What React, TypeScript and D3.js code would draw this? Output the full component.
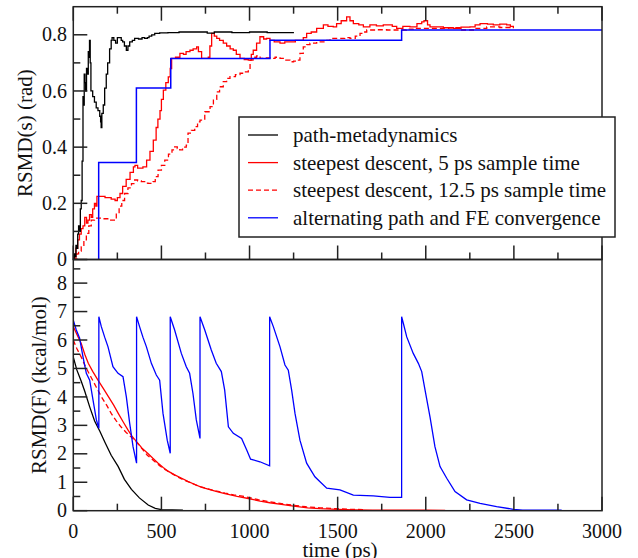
import React from "react";
import * as d3 from "d3";

type P = [number, number];

// ---------- data (time in ps) ----------
const xTicks = [0, 500, 1000, 1500, 2000, 2500, 3000];
const topYTicks = [0, 0.2, 0.4, 0.6, 0.8];
const botYTicks = [0, 1, 2, 3, 4, 5, 6, 7, 8];
const legendLabels = [
  "path-metadynamics",
  "steepest descent, 5 ps sample time",
  "steepest descent, 12.5 ps sample time",
  "alternating path and FE convergence",
];

const pathMetaS: P[] = [
  [0, 0], [5, 0.02], [10, 0.01], [15, 0.05], [20, 0.04], [25, 0.09], [30, 0.12], [35, 0.1], [40, 0.18],
  [45, 0.21], [50, 0.35], [55, 0.58], [58, 0.55], [62, 0.66], [66, 0.63], [70, 0.6], [75, 0.68], [80, 0.66],
  [85, 0.74], [88, 0.72], [92, 0.78], [96, 0.7], [100, 0.6], [110, 0.58], [120, 0.56], [130, 0.54], [140, 0.53],
  [150, 0.51], [155, 0.49], [158, 0.47], [162, 0.52], [170, 0.55], [178, 0.61], [187, 0.66], [195, 0.7],
  [206, 0.75], [215, 0.78], [220, 0.79], [230, 0.78], [240, 0.77], [250, 0.79], [263, 0.79], [272, 0.78],
  [280, 0.775], [290, 0.76], [301, 0.745], [310, 0.76], [320, 0.775], [335, 0.78], [348, 0.787], [370, 0.785],
  [390, 0.79], [405, 0.787], [420, 0.79], [430, 0.795], [445, 0.8], [462, 0.805], [490, 0.807], [537, 0.808],
  [600, 0.81], [700, 0.81], [760, 0.806], [800, 0.81], [900, 0.808], [1000, 0.81], [1100, 0.808], [1252, 0.808],
];

const sd5S: P[] = [
  [0, 0], [8, 0.01], [15, 0.04], [25, 0.07], [35, 0.09], [45, 0.11], [55, 0.12], [65, 0.15], [75, 0.13],
  [83, 0.14], [92, 0.16], [102, 0.15], [110, 0.18], [120, 0.2], [128, 0.19], [134, 0.225], [160, 0.225],
  [180, 0.22], [200, 0.22], [215, 0.215], [237, 0.21], [250, 0.22], [265, 0.235], [280, 0.26], [300, 0.285],
  [322, 0.31], [341, 0.33], [350, 0.335], [365, 0.325], [378, 0.325], [395, 0.33], [416, 0.354], [435, 0.385],
  [454, 0.425], [470, 0.47], [480, 0.5], [492, 0.53], [500, 0.57], [511, 0.603], [525, 0.63], [539, 0.65],
  [550, 0.68], [558, 0.716], [580, 0.72], [605, 0.734], [625, 0.73], [640, 0.74], [662, 0.745], [680, 0.75],
  [700, 0.757], [710, 0.74], [728, 0.716], [750, 0.716], [766, 0.72], [775, 0.76], [785, 0.805], [800, 0.795],
  [814, 0.787], [830, 0.78], [851, 0.77], [870, 0.76], [890, 0.75], [908, 0.745], [925, 0.73], [946, 0.716],
  [970, 0.712], [993, 0.71], [1010, 0.73], [1021, 0.745], [1040, 0.77], [1059, 0.793], [1080, 0.785],
  [1097, 0.787], [1116, 0.78], [1140, 0.775], [1173, 0.77], [1200, 0.775], [1230, 0.775], [1260, 0.78],
  [1287, 0.78], [1305, 0.79], [1324, 0.805], [1350, 0.81], [1381, 0.823], [1400, 0.823], [1419, 0.835],
  [1445, 0.83], [1475, 0.828], [1494, 0.84], [1520, 0.85], [1551, 0.864], [1570, 0.85], [1589, 0.84],
  [1620, 0.835], [1646, 0.828], [1683, 0.835], [1720, 0.832], [1759, 0.835], [1778, 0.835], [1810, 0.83],
  [1835, 0.823], [1870, 0.83], [1910, 0.828], [1950, 0.84], [1977, 0.846], [1990, 0.85], [2010, 0.835],
  [2024, 0.828], [2043, 0.828], [2100, 0.825], [2156, 0.823], [2200, 0.827], [2251, 0.828], [2280, 0.835],
  [2308, 0.84], [2350, 0.838], [2383, 0.835], [2420, 0.838], [2459, 0.835], [2480, 0.83], [2497, 0.823],
];

const sd12S: P[] = [
  [0, 0], [8, 0.005], [20, 0.02], [30, 0.03], [45, 0.045], [60, 0.07], [74, 0.093], [88, 0.12], [102, 0.14],
  [120, 0.147], [140, 0.147], [170, 0.145], [200, 0.14], [225, 0.14], [244, 0.164], [260, 0.19], [275, 0.21],
  [291, 0.235], [310, 0.255], [330, 0.27], [348, 0.283], [365, 0.28], [386, 0.277], [405, 0.272], [424, 0.271],
  [440, 0.275], [452, 0.277], [465, 0.295], [481, 0.318], [500, 0.335], [519, 0.354], [540, 0.375], [560, 0.39],
  [575, 0.401], [590, 0.395], [604, 0.39], [620, 0.4], [641, 0.407], [651, 0.45], [670, 0.46], [689, 0.473],
  [705, 0.49], [719, 0.496], [746, 0.526], [776, 0.544], [795, 0.57], [814, 0.597], [830, 0.615], [851, 0.633],
  [870, 0.645], [889, 0.651], [920, 0.658], [946, 0.663], [970, 0.668], [993, 0.674], [1000, 0.675],
  [1003, 0.71], [1020, 0.72], [1040, 0.725], [1060, 0.716], [1090, 0.718], [1116, 0.716], [1145, 0.72],
  [1173, 0.716], [1200, 0.71], [1229, 0.704], [1250, 0.706], [1267, 0.71], [1286, 0.734], [1305, 0.757],
  [1325, 0.765], [1343, 0.77], [1381, 0.775], [1400, 0.775], [1430, 0.78], [1457, 0.787], [1494, 0.787],
  [1513, 0.787], [1540, 0.79], [1570, 0.787], [1600, 0.795], [1627, 0.805], [1646, 0.81], [1665, 0.817],
  [1720, 0.818], [1778, 0.817], [1810, 0.817], [1853, 0.817], [1890, 0.82], [1929, 0.823], [2000, 0.823],
  [2062, 0.823], [2130, 0.825], [2194, 0.817], [2270, 0.823], [2346, 0.828], [2420, 0.826], [2478, 0.828],
];

const altS: P[] = [
  [144, 0], [144, 0.345], [358, 0.611], [553, 0.716], [1116, 0.781], [1863, 0.817], [3000, 0.817],
];

const pathMetaF: P[] = [
  [0, 5.4], [20, 4.95], [45, 4.55], [65, 4.2], [93, 3.65], [121, 3.15], [150, 2.8], [180, 2.4], [215, 1.95],
  [255, 1.55], [290, 1.1], [330, 0.75], [375, 0.45], [425, 0.2], [465, 0.08], [500, 0.04], [560, 0.03], [622, 0.02],
];

const sd5F: P[] = [
  [0, 6.47], [20, 6.2], [45, 5.88], [65, 5.5], [85, 5.18], [110, 4.9], [140, 4.59], [170, 4.3], [200, 4.0],
  [230, 3.7], [255, 3.42], [285, 3.1], [310, 2.84], [335, 2.6], [360, 2.42], [390, 2.2], [425, 2.0], [450, 1.85],
  [480, 1.68], [510, 1.52], [540, 1.38], [575, 1.26], [615, 1.14], [650, 1.03], [690, 0.92], [725, 0.83],
  [765, 0.76], [810, 0.68], [860, 0.6], [930, 0.5], [1000, 0.42], [1060, 0.34], [1115, 0.28], [1180, 0.22],
  [1250, 0.16], [1330, 0.1], [1400, 0.07], [1500, 0.05], [1600, 0.03], [1700, 0.02], [1850, 0.02],
  [2000, 0.015], [2110, 0.01],
];

const sd12F: P[] = [
  [0, 6.0], [20, 5.7], [45, 5.4], [70, 5.05], [100, 4.7], [130, 4.35], [160, 4.0], [190, 3.7], [215, 3.42],
  [245, 3.15], [270, 2.95], [300, 2.75], [330, 2.58], [360, 2.4], [385, 2.22], [420, 1.95], [460, 1.74],
  [490, 1.58], [520, 1.45], [555, 1.32], [595, 1.18], [630, 1.07], [670, 0.97], [705, 0.88], [745, 0.8],
  [800, 0.71], [860, 0.62], [910, 0.56], [960, 0.51], [1000, 0.46], [1050, 0.39], [1100, 0.33], [1150, 0.28],
  [1200, 0.23], [1250, 0.19], [1320, 0.14], [1400, 0.1], [1500, 0.07], [1560, 0.05], [1650, 0.04],
];

const altF: P[] = [
  [0, 6.7], [17, 6.35], [36, 6.06], [55, 5.41], [74, 4.83], [93, 4.59], [112, 3.89], [131, 3.19], [145, 2.9],
  [145, 6.82], [159, 6.47], [178, 6.1], [197, 5.76], [225, 5.06], [254, 4.83], [282, 4.71], [301, 4.0],
  [320, 3.07], [339, 2.25], [359, 1.67],
  [359, 6.82], [376, 6.47], [395, 6.1], [415, 5.76], [443, 5.18], [471, 4.77], [490, 4.59], [509, 3.42],
  [533, 2.48], [550, 2.02],
  [550, 6.82], [575, 6.35], [613, 5.53], [641, 5.06], [660, 4.83], [679, 4.12], [698, 3.19], [719, 2.54],
  [719, 6.82], [746, 6.35], [783, 5.65], [811, 5.18], [840, 4.89], [859, 4.24], [880, 2.95], [908, 2.72],
  [955, 2.54], [984, 2.13], [1006, 1.81], [1059, 1.72], [1114, 1.58],
  [1114, 6.82], [1135, 6.47], [1173, 5.76], [1201, 5.12], [1220, 4.94], [1239, 4.24], [1258, 3.42],
  [1286, 2.48], [1324, 1.67], [1371, 1.19], [1400, 1.02], [1438, 0.79], [1513, 0.73], [1589, 0.55],
  [1702, 0.52], [1797, 0.47], [1863, 0.47],
  [1863, 6.82], [1873, 6.58], [1892, 6.11], [1929, 5.53], [1958, 5.18], [1977, 4.89], [1996, 4.24],
  [2024, 3.3], [2052, 2.25], [2081, 1.55], [2119, 1.14], [2166, 0.67], [2232, 0.38], [2308, 0.26],
  [2402, 0.14], [2497, 0.05], [2550, 0.02], [2771, 0.02],
];

// ---------- layout ----------
const W = 638;
const H = 558;
const L = 73.3;
const R = 602;
const T1 = 6.7;
const MID = 259.5;
const B2 = 510.7;
const FONT = '"Liberation Serif"';
const AX = "#222";

export default function App() {
  const x = d3.scaleLinear().domain([0, 3000]).range([L, R]);
  const yTop = d3.scaleLinear().domain([0, 0.9]).range([MID, T1]);
  const yBot = d3.scaleLinear().domain([0, 8.83]).range([B2, MID]);

  const lineTopStep = d3.line<P>().x((d) => x(d[0])).y((d) => yTop(d[1])).curve(d3.curveStepAfter);
  const lineBot = d3.line<P>().x((d) => x(d[0])).y((d) => yBot(d[1]));

  const xMajor = d3.range(0, 3001, 500);
  const xMinor = d3.range(250, 3000, 500);
  const topMajor = d3.range(0, 0.91, 0.2);
  const topMinor = d3.range(0.1, 0.9, 0.2);
  const botMajor = d3.range(0, 8.9, 1);
  const botMinor = d3.range(0.5, 8.83, 1);

  const majLen = 14;
  const minLen = 7;

  const legX = 239;
  const legY = 117;
  const legW = 376;
  const legH = 120;
  const rowY = (i: number) => 135 + i * 27.6;
  const colors = ["#000", "#ff0000", "#ff0000", "#0000ff"];
  const dashes = [undefined, undefined, "5,3", undefined];
  const txt = { fontFamily: FONT };

  return (
    <div style={{ position: "absolute", left: 0, top: 0 }}>
      <svg width={W} height={H} style={{ display: "block", background: "#fff" }}>
        <defs>
          <clipPath id="cTop">
            <rect x={L} y={T1} width={R - L} height={MID - T1} />
          </clipPath>
          <clipPath id="cBot">
            <rect x={L} y={MID} width={R - L} height={B2 - MID} />
          </clipPath>
        </defs>

        {/* top panel data */}
        <g clipPath="url(#cTop)" fill="none" strokeWidth={1.3}>
          <path d={lineTopStep(sd12S) || ""} stroke="#ff0000" strokeDasharray="5,3" />
          <path d={lineTopStep(sd5S) || ""} stroke="#ff0000" />
          <path d={lineTopStep(altS) || ""} stroke="#0000ff" strokeWidth={1.5} />
          <path d={lineTopStep(pathMetaS) || ""} stroke="#000" />
        </g>

        {/* bottom panel data */}
        <g clipPath="url(#cBot)" fill="none" strokeWidth={1.3}>
          <path d={lineBot(pathMetaF) || ""} stroke="#000" />
          <path d={lineBot(sd12F) || ""} stroke="#ff0000" strokeDasharray="5,3" />
          <path d={lineBot(sd5F) || ""} stroke="#ff0000" />
          <path d={lineBot(altF) || ""} stroke="#0000ff" />
        </g>

        {/* frames */}
        <rect x={L} y={T1} width={R - L} height={MID - T1} fill="none" stroke={AX} strokeWidth={1.5} />
        <rect x={L} y={MID} width={R - L} height={B2 - MID} fill="none" stroke={AX} strokeWidth={1.5} />

        {/* ticks */}
        <g stroke={AX} strokeWidth={1.5}>
          {xMajor.map((t) => (
            <g key={"xm" + t}>
              <line x1={x(t)} x2={x(t)} y1={T1} y2={T1 + majLen} />
              <line x1={x(t)} x2={x(t)} y1={MID} y2={MID - majLen} />
              <line x1={x(t)} x2={x(t)} y1={B2} y2={B2 - majLen} />
            </g>
          ))}
          {xMinor.map((t) => (
            <g key={"xn" + t}>
              <line x1={x(t)} x2={x(t)} y1={T1} y2={T1 + minLen} />
              <line x1={x(t)} x2={x(t)} y1={MID} y2={MID - minLen} />
              <line x1={x(t)} x2={x(t)} y1={B2} y2={B2 - minLen} />
            </g>
          ))}
          {topMajor.map((v) => (
            <line key={"tm" + v} x1={L} x2={L + majLen} y1={yTop(v)} y2={yTop(v)} />
          ))}
          {topMinor.map((v) => (
            <line key={"tn" + v} x1={L} x2={L + minLen} y1={yTop(v)} y2={yTop(v)} />
          ))}
          {botMajor.map((v) => (
            <line key={"bm" + v} x1={L} x2={L + majLen} y1={yBot(v)} y2={yBot(v)} />
          ))}
          {botMinor.map((v) => (
            <line key={"bn" + v} x1={L} x2={L + minLen} y1={yBot(v)} y2={yBot(v)} />
          ))}
        </g>

        {/* tick labels */}
        <g fontSize={20} fill="#111">
          {topYTicks.map((v) => (
            <text key={"tl" + v} x={67} y={yTop(v)} dy="0.33em" textAnchor="end" style={txt}>
              {v === 0 ? "0" : v.toFixed(1)}
            </text>
          ))}
          {botYTicks.map((v) => (
            <text key={"bl" + v} x={67} y={yBot(v)} dy="0.33em" textAnchor="end" style={txt}>
              {String(v)}
            </text>
          ))}
          {xTicks.map((t) => (
            <text key={"xl" + t} x={x(t)} y={538} textAnchor="middle" style={txt}>
              {String(t)}
            </text>
          ))}
        </g>

        {/* axis titles */}
        <g fontSize={21} fill="#111" textAnchor="middle">
          <text transform={`translate(32,${(T1 + MID) / 2}) rotate(-90)`} style={txt}>
            RSMD(s) (rad)
          </text>
          <text transform={`translate(46,${(MID + B2) / 2}) rotate(-90)`} style={txt}>
            RSMD(F) (kcal/mol)
          </text>
          <text x={340} y={557} style={txt}>
            time (ps)
          </text>
        </g>

        {/* legend */}
        <g>
          <rect x={legX} y={legY} width={legW} height={legH} fill="#fff" stroke={AX} strokeWidth={1.5} />
          {legendLabels.map((lab, i) => (
            <g key={lab}>
              <line
                x1={248}
                x2={278}
                y1={rowY(i)}
                y2={rowY(i)}
                stroke={colors[i]}
                strokeWidth={1.3}
                strokeDasharray={dashes[i]}
              />
              <text x={293} y={rowY(i)} dy="0.33em" fontSize={21} fill="#111" style={txt}>
                {lab}
              </text>
            </g>
          ))}
        </g>
      </svg>
    </div>
  );
}
